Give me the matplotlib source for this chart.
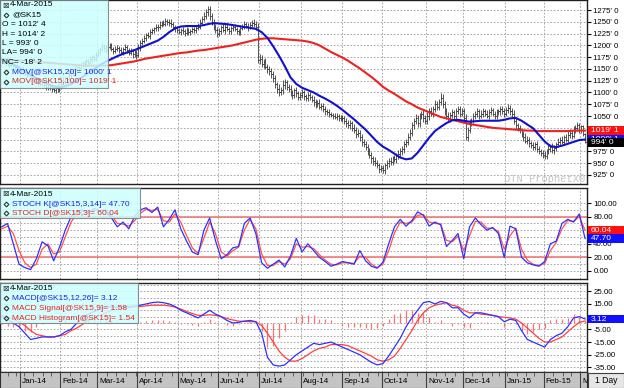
import numpy as np
import pandas as pd
import matplotlib
matplotlib.use('Agg')
import matplotlib.pyplot as plt
from matplotlib.patches import Rectangle
from matplotlib.lines import Line2D

plt.rcParams['font.family'] = ['Liberation Sans', 'DejaVu Sans']

# --- data: May 2015 soybeans (@SK15), daily sessions 17-Dec-2013 .. 4-Mar-2015 ---
holidays = ['2013-12-25', '2014-01-01', '2014-01-20', '2014-02-17', '2014-04-18',
            '2014-05-26', '2014-07-04', '2014-09-01', '2014-11-27', '2014-12-25',
            '2015-01-01', '2015-01-19', '2015-02-16']

closes = [
    1166, 1163, 1165, 1160, 1158, 1161, 1156, 1154, 1152, 1150,
    1147, 1145, 1140, 1138, 1141, 1135, 1130, 1128, 1124, 1120,
    1118, 1122, 1115, 1112, 1110, 1113, 1108, 1105, 1110, 1107,
    1112, 1118, 1125, 1130, 1128, 1138, 1145, 1142, 1150, 1155,
    1152, 1158, 1162, 1160, 1166, 1163, 1170, 1175, 1172, 1180,
    1186, 1192, 1198, 1195, 1190, 1196, 1200, 1193, 1188, 1192,
    1195, 1190, 1186, 1192, 1196, 1190, 1184, 1188, 1181, 1185,
    1180, 1195, 1205, 1210, 1216, 1222, 1220, 1228, 1232, 1236,
    1240, 1238, 1244, 1248, 1246, 1252, 1250, 1248, 1245, 1240,
    1236, 1232, 1228, 1232, 1230, 1226, 1232, 1228, 1230, 1234,
    1232, 1236, 1240, 1248, 1256, 1262, 1270, 1278, 1262, 1250,
    1240, 1232, 1225, 1230, 1238, 1232, 1240, 1235, 1230, 1236,
    1240, 1235, 1230, 1228, 1236, 1240, 1245, 1242, 1238, 1244,
    1248, 1245, 1240, 1168, 1172, 1160, 1165, 1155, 1150, 1145,
    1140, 1130, 1118, 1108, 1100, 1105, 1115, 1122, 1112, 1108,
    1100, 1095, 1105, 1098, 1090, 1095, 1100, 1092, 1088, 1095,
    1090, 1085, 1080, 1075, 1078, 1070, 1072, 1065, 1060, 1058,
    1055, 1052, 1050, 1048, 1050, 1046, 1044, 1045, 1040, 1035,
    1030, 1035, 1025, 1020, 1012, 1015, 1005, 995, 990, 985,
    975, 968, 960, 955, 950, 945, 938, 940, 935, 945,
    950, 955, 952, 960, 958, 965, 970, 975, 980, 990,
    995, 1005, 1015, 1030, 1040, 1045, 1035, 1050, 1055, 1045,
    1040, 1050, 1060, 1055, 1065, 1075, 1070, 1080, 1088, 1075,
    1060, 1050, 1045, 1052, 1058, 1050, 1060, 1065, 1055, 1060,
    1045, 1005, 1020, 1035, 1040, 1050, 1055, 1060, 1050, 1055,
    1060, 1055, 1050, 1058, 1062, 1055, 1050, 1058, 1060, 1065,
    1060, 1055, 1062, 1068, 1060, 1055, 1040, 1030, 1025, 1020,
    1012, 1005, 998, 1000, 992, 988, 985, 990, 980, 975,
    972, 968, 965, 975, 980, 985, 978, 982, 990, 995,
    1000, 995, 1005, 1000, 1010, 1015, 1008, 1020, 1025, 1030,
    1020, 1028, 1012, 994,
]
# cents above / below the open-close body of each bar
up = [
    4, 5, 3, 6, 4, 5, 3, 4, 6, 5, 4, 7, 5, 3, 6, 4, 5, 8, 4, 5,
    6, 4, 5, 3, 7, 4, 5, 6, 4, 8, 5, 6, 7, 4, 5, 9, 6, 5, 7, 6,
    5, 6, 4, 7, 5, 6, 8, 5, 4, 6, 7, 5, 6, 4, 5, 7, 6, 5, 4, 6,
    5, 4, 6, 5, 7, 4, 5, 6, 4, 5, 6, 8, 7, 5, 6, 5, 7, 6, 5, 4,
    6, 5, 7, 4, 5, 6, 4, 5, 7, 5, 4, 6, 5, 4, 6, 5, 7, 4, 5, 6,
    5, 6, 7, 8, 6, 9, 8, 6, 5, 7, 6, 5, 8, 6, 5, 7, 6, 5, 4, 6,
    5, 6, 4, 5, 7, 5, 6, 4, 5, 6, 5, 7, 6, 8, 9, 7, 6, 8, 5, 7,
    8, 6, 7, 5, 9, 7, 12, 6, 5, 7, 8, 6, 5, 7, 6, 5, 8, 6, 5, 7,
    6, 5, 7, 6, 5, 8, 6, 5, 7, 5, 6, 4, 5, 7, 6, 5, 6, 7, 5, 6,
    7, 6, 5, 8, 6, 7, 5, 6, 7, 8, 6, 7, 5, 6, 8, 7, 6, 5, 7, 6,
    7, 6, 8, 5, 7, 6, 8, 7, 6, 8, 7, 9, 8, 7, 6, 9, 8, 7, 6, 8,
    7, 8, 6, 9, 7, 8, 6, 7, 10, 8, 6, 7, 8, 6, 7, 5, 8, 6, 7, 6,
    7, 9, 6, 8, 5, 7, 6, 8, 5, 7, 6, 5, 7, 6, 8, 5, 6, 7, 5, 6,
    7, 6, 8, 7, 5, 6, 7, 8, 6, 7, 5, 6, 8, 7, 5, 6, 7, 5, 6, 7,
    6, 5, 7, 6, 8, 5, 7, 6, 5, 8, 6, 7, 5, 6, 8, 7, 6, 9, 7, 8,
    6, 2, 2, 2,
]
dn = [
    5, 3, 6, 4, 5, 3, 4, 6, 5, 4, 7, 5, 3, 6, 4, 5, 7, 4, 5, 6,
    4, 5, 3, 6, 4, 5, 7, 4, 6, 5, 6, 4, 5, 7, 6, 4, 5, 8, 6, 5,
    6, 4, 7, 5, 6, 4, 5, 7, 6, 5, 4, 6, 5, 7, 6, 5, 4, 6, 7, 5,
    4, 6, 5, 7, 4, 6, 5, 4, 7, 6, 8, 5, 6, 4, 5, 7, 5, 6, 4, 5,
    5, 7, 4, 6, 5, 4, 6, 7, 5, 6, 7, 5, 4, 6, 5, 7, 4, 6, 5, 4,
    6, 5, 4, 6, 5, 4, 7, 8, 9, 7, 8, 6, 7, 5, 6, 4, 7, 5, 6, 5,
    6, 4, 5, 7, 5, 4, 6, 5, 7, 4, 6, 5, 7, 5, 8, 6, 7, 6, 8, 7,
    9, 7, 8, 10, 7, 6, 8, 7, 6, 8, 7, 9, 6, 8, 7, 6, 7, 8, 6, 7,
    7, 6, 8, 7, 6, 5, 7, 6, 8, 6, 7, 5, 6, 5, 7, 6, 5, 6, 7, 8,
    6, 8, 7, 6, 8, 7, 9, 8, 6, 7, 8, 7, 9, 8, 7, 6, 8, 7, 6, 8,
    7, 8, 6, 7, 6, 8, 7, 6, 7, 8, 6, 7, 6, 8, 7, 6, 8, 9, 7, 8,
    6, 7, 8, 6, 7, 6, 8, 7, 6, 9, 8, 7, 6, 7, 6, 8, 7, 6, 7, 6,
    8, 6, 7, 6, 7, 5, 6, 7, 6, 5, 7, 6, 5, 7, 6, 5, 7, 6, 5, 7,
    6, 7, 5, 6, 8, 7, 6, 8, 7, 6, 7, 8, 6, 7, 8, 6, 7, 8, 7, 6,
    7, 8, 6, 7, 6, 7, 6, 8, 7, 6, 7, 5, 7, 6, 5, 7, 6, 5, 7, 6,
    6, 5, 4, 1,
]

# indicators, one value every 3rd session (0, 3, ..., 303)
ma20 = [
    1171, 1166, 1160, 1152, 1145, 1137, 1130, 1124, 1118, 1113,
    1111, 1113, 1118, 1125, 1133, 1142, 1150, 1158, 1165, 1171,
    1177, 1182, 1186, 1190, 1195, 1200, 1205, 1210, 1218, 1228,
    1236, 1240, 1241, 1241, 1241, 1243, 1246, 1247, 1246, 1245,
    1243, 1241, 1239, 1237, 1235, 1228, 1216, 1198, 1178, 1156,
    1132, 1118, 1110, 1105, 1100, 1093, 1087, 1080, 1072, 1063,
    1053, 1043, 1032, 1021, 1008, 995, 985, 978, 970, 962,
    958, 960, 972, 988, 1004, 1018, 1027, 1035, 1041, 1042,
    1040, 1038, 1039, 1040, 1040, 1040, 1040, 1042, 1045, 1046,
    1040, 1032, 1024, 1010, 996, 986, 984, 987, 991, 995,
    999, 1000.125,
]
ma100 = [
    1171, 1170, 1169, 1168, 1167, 1166, 1165, 1164, 1163, 1162,
    1161, 1160, 1159, 1158, 1157, 1157, 1157, 1157, 1157, 1158,
    1160, 1162, 1164, 1166, 1169, 1172, 1174, 1176, 1178, 1180,
    1182, 1184, 1185, 1187, 1189, 1190, 1192, 1194, 1196, 1198,
    1200, 1203, 1206, 1209, 1212, 1214, 1215, 1215, 1214, 1213,
    1212, 1211, 1210, 1208, 1205, 1200, 1193, 1186, 1180, 1174,
    1167, 1159, 1151, 1142, 1133, 1123, 1112, 1104, 1097, 1089,
    1081, 1075, 1068, 1063, 1058, 1053, 1048, 1045, 1042, 1039,
    1036, 1033, 1031, 1029, 1027, 1025, 1024, 1023, 1022, 1021,
    1020, 1019, 1019, 1018, 1018, 1018, 1018, 1018, 1018, 1019,
    1019, 1019.125,
]
stoch_k = [
    65, 70, 40, 10, 5, 2, 18, 43, 37, 15,
    35, 60, 80, 88, 90, 85, 92, 88, 90, 78,
    65, 72, 62, 80, 90, 93, 86, 94, 65, 76,
    90, 62, 44, 28, 24, 60, 78, 45, 18, 24,
    34, 36, 70, 78, 55, 12, 4, 10, 16, 6,
    22, 48, 28, 40, 30, 20, 14, 7, 10, 14,
    12, 10, 30, 15, 7, 4, 13, 40, 65, 76,
    66, 74, 87, 82, 66, 72, 68, 36, 45, 55,
    18, 65, 78, 68, 60, 64, 55, 20, 66, 62,
    20, 12, 9, 7, 14, 40, 44, 70, 76, 72,
    84, 47.70,
]
stoch_d = [
    62, 66, 55, 30, 12, 5, 10, 32, 40, 25,
    28, 50, 72, 84, 88, 87, 89, 89, 89, 82,
    70, 69, 66, 74, 85, 91, 89, 91, 74, 72,
    84, 72, 52, 34, 26, 48, 72, 55, 28, 22,
    30, 35, 60, 76, 62, 25, 8, 8, 14, 10,
    18, 40, 35, 36, 33, 24, 16, 10, 9, 12,
    12, 11, 22, 20, 10, 5, 10, 30, 56, 72,
    70, 72, 82, 83, 72, 70, 69, 45, 43, 51,
    30, 52, 73, 72, 63, 63, 58, 32, 52, 63,
    32, 16, 10, 8, 11, 30, 42, 62, 74, 73,
    80, 60.04,
]
macd = [
    5, 3, 0, -3, -8, -13, -12, -11, -11, -11,
    -10, -7, -5, 0, 4, 7, 9, 11, 12.5, 12.6,
    12.5, 13, 13, 13.5, 14, 15, 16, 16.5, 16, 15,
    13, 10, 8, 6, 4, 7, 10, 7, 5, 2,
    0, 0.5, 1.5, 2, 1, -8, -27, -33, -34, -33,
    -29, -25, -22, -19, -16, -17, -16, -15, -17, -19,
    -21, -23, -25, -28, -31, -33, -32, -26, -19, -12,
    -3, 4, 10, 16, 17, 15, 17, 16, 12, 12,
    7, 4, 8, 8, 7, 6, 5, 1, 3, 2,
    -6, -13, -15, -17, -19, -13, -10, -8, -3, 4,
    5, 3.12,
]
signal = [
    6, 5, 3, 1, -2, -6, -9, -10, -11, -11,
    -10, -9, -6, -4, -1, 2, 4, 6, 8, 10,
    11, 12, 12, 12.5, 13, 13.5, 14, 14, 14, 13.5,
    12.5, 11, 9, 7.5, 6, 6, 6.5, 6, 5, 3.5,
    2.4, 1.5, 1.2, 1, 1, -2, -8, -15, -22, -27,
    -30, -30, -28, -25, -22, -20, -19, -17, -17, -17,
    -18, -20, -22, -24, -26, -29, -30, -29, -26, -20,
    -13, -6, 2, 8, 12, 14, 15, 16, 14, 13,
    10, 8, 8, 7, 6.5, 6, 5, 4.5, 4, 3,
    0, -4, -8, -12, -15, -15, -13, -11, -7, -3,
    0.5, 1.58,
]
hist = [
    -1, -2, -3, -4, -6, -7, -3, -1, 0, 0,
    0, 2, 1, 4, 5, 5, 5, 5, 4.5, 2.6,
    1.5, 1, 1, 1, 1, 1.5, 2, 2.5, 2, 1.5,
    0.5, -1, -1, -1.5, -2, 1, 3.5, 1, 0, -1.5,
    -2.4, -1, 0.3, 1, 0, -6, -19, -18, -12, -6,
    1, 5, 6, 6, 6, 3, 3, 2, 0, -2,
    -3, -3, -3, -4, -5, -4, -2, 3, 7, 8,
    10, 10, 8, 8, 5, 1, 2, 0, -2, -1,
    -3, -4, 0, 1, 0.5, 0, 0, -3.5, -1, -1,
    -6, -9, -7, -5, -4, 2, 3, 3, 4, 7,
    4.5, 1.54,
]

price_ticks = list(range(925, 1276, 25))
stoch_ticks = [0, 20, 40, 60, 80, 100]
macd_ticks = [-35, -25, -15, -5, 5, 15, 25]
month_names = ['Jan-14', 'Feb-14', 'Mar-14', 'Apr-14', 'May-14', 'Jun-14', 'Jul-14',
               'Aug-14', 'Sep-14', 'Oct-14', 'Nov-14', 'Dec-14', 'Jan-15', 'Feb-15', 'M']

# --- calendar ---
days = pd.bdate_range('2013-12-17', '2015-03-04')
days = days[~days.isin(pd.to_datetime(holidays))]
n = len(closes)
x = np.arange(n)
xi = np.arange(0, n, 3)
months = days.to_period('M')
month_edges = [i - 0.5 for i in range(1, len(days)) if months[i] != months[i - 1]]
weeks = days.to_period('W')
week_edges = [i - 0.5 for i in range(1, len(days)) if weeks[i] != weeks[i - 1]]

W, H = 624, 388
XL = (-0.9, 304.0)
AX_R = 587
fig = plt.figure(figsize=(W / 100, H / 100), dpi=100)

BLUE = '#2020e8'
RED = '#ee2020'
FS = 5.7


def fx(px):
    return px / W


def fy(py):
    return 1 - py / H


def panel(top, bottom, ylim, ticks, labels, minor):
    ax = fig.add_axes([0, fy(bottom), AX_R / W, (bottom - top) / H])
    ax.set_xlim(*XL)
    ax.set_ylim(*ylim)
    ax.set_xticks(month_edges)
    ax.tick_params(axis='x', length=0, labelbottom=False)
    ax.yaxis.tick_right()
    ax.set_yticks(ticks)
    ax.set_yticklabels(labels)
    ax.set_yticks(minor, minor=True)
    ax.tick_params(axis='y', which='major', length=3, width=0.8, labelsize=FS, pad=1.5)
    ax.tick_params(axis='y', which='minor', length=0)
    ax.grid(True, which='both', color='#9a9a9a', lw=0.6, ls=(0, (2, 2)))
    for s in ax.spines.values():
        s.set_color('#202020')
        s.set_linewidth(1.0)
    return ax


def ypx(ax, top, bottom, v):
    lo, hi = ax.get_ylim()
    return top + (hi - v) / (hi - lo) * (bottom - top)


def tag(y, text, fc, z):
    fig.add_artist(Rectangle((fx(588), fy(y + 4.3)), 36 / W, 8.6 / H, transform=fig.transFigure,
                             facecolor=fc, edgecolor='none', zorder=z))
    fig.text(fx(591), fy(y), text, color='white', fontsize=FS + 0.3, va='center', ha='left', zorder=z + 0.5)


def legend(x0, y0, x1, y1, rows):
    fig.add_artist(Rectangle((fx(x0), fy(y1)), (x1 - x0) / W, (y1 - y0) / H, transform=fig.transFigure,
                             facecolor='#ccffff', edgecolor='#7a7a7a', lw=0.8, alpha=0.85, zorder=15))
    for kind, px, py, text, color in rows:
        if kind == 'icon':
            fig.text(fx(px), fy(py), '\u22a0', fontsize=FS, color='#333333', va='center', ha='left',
                     family=['DejaVu Sans'], zorder=16)
            fig.text(fx(px + 8), fy(py), text, fontsize=FS + 0.3, color=color, va='center', ha='left', zorder=16)
        elif kind == 'dot':
            fig.add_artist(Line2D([fx(px + 1.5)], [fy(py)], marker='D', ms=2.4, mfc='none', mec='#333333',
                                  mew=0.8, transform=fig.transFigure, zorder=16))
            fig.text(fx(px + 8), fy(py), text, fontsize=FS + 0.3, color=color, va='center', ha='left', zorder=16)
        else:
            fig.text(fx(px), fy(py), text, fontsize=FS + 0.3, color=color, va='center', ha='left', zorder=16)


# tick labels that sit under the value tags are not shown
def price_label(v):
    return '' if v in (1000, 1025) else f"{v}' 0"


# --- price panel ---
P_TOP, P_BOT = 0, 184
axp = panel(P_TOP, P_BOT, (905.7, 1296.3), price_ticks, [price_label(v) for v in price_ticks], [])
c = np.array(closes, float)
prev = np.r_[c[0], c[:-1]]
hi = np.maximum(prev, c) + np.array(up)
lo = np.minimum(prev, c) - np.array(dn)
axp.vlines(x, lo, hi, color='#3a3a3a', lw=0.6, zorder=3)
axp.hlines(c, x, x + 0.8, color='#3a3a3a', lw=0.6, zorder=3)
axp.hlines(prev, x - 0.8, x, color='#3a3a3a', lw=0.5, zorder=3)
axp.plot(xi, ma100, color=RED, lw=1.5, zorder=4)
axp.plot(xi, ma20, color='#1010d0', lw=1.5, zorder=5)
fig.text(fx(585), fy(179), 'DTN ProphetX\u00ae', ha='right', va='center', fontsize=7.5,
         color='#c4c4c4', family=['Liberation Mono', 'DejaVu Sans Mono'], zorder=2)

# --- stochastic panel ---
S_TOP, S_BOT = 188, 279
axs = panel(S_TOP, S_BOT, (-11.8, 122.1), stoch_ticks,
            ['' if v == 60 else f'{v:.2f}' for v in stoch_ticks], [10, 30, 50, 70, 90])
axs.axhline(80, color='#f07070', lw=1.1, zorder=2)
axs.axhline(20, color='#f07070', lw=1.1, zorder=2)
axs.plot(xi, stoch_d, color='#ff5050', lw=0.9, zorder=3)
axs.plot(xi, stoch_k, color='#3030ff', lw=0.9, zorder=4)

# --- MACD panel ---
M_TOP, M_BOT = 283, 372
axm = panel(M_TOP, M_BOT, (-38.6, 31.5), macd_ticks,
            ['' if v == 5 else f'{v:.2f}' for v in macd_ticks], [-30, -20, -10, 0, 10, 20, 30])
axm.vlines(xi, 0, hist, color='#ff7070', lw=0.9, zorder=2)
axm.plot(xi, signal, color='#ff4040', lw=0.9, zorder=3)
axm.plot(xi, macd, color='#3030ff', lw=0.9, zorder=4)

# --- date strip ---
axd = fig.add_axes([0, 0, AX_R / W, 16 / H])
axd.set_facecolor('#c4c4c4')
axd.set_xlim(*XL)
axd.set_ylim(0, 1)
axd.set_xticks([])
axd.set_yticks([])
axd.vlines(week_edges, 0.72, 1, color='#505050', lw=0.6)
axd.vlines(month_edges, 0.0, 1, color='#404040', lw=0.8)
for edge, name in zip(month_edges, month_names):
    axd.text(edge + 1.0, 0.42, name, fontsize=FS + 0.2, va='center', ha='left')
for s in axd.spines.values():
    s.set_color('#303030')

fig.add_artist(Rectangle((fx(588), fy(388)), 36 / W, 15 / H, transform=fig.transFigure,
                         facecolor='#e6e6e6', edgecolor='#404040', lw=0.8, zorder=20))
fig.text(fx(606), fy(380.5), '1 Day', fontsize=FS + 0.5, ha='center', va='center', zorder=21)

# --- right-axis value tags (later ones drawn on top, as in the reference) ---
tag(ypx(axp, P_TOP, P_BOT, 1019.125), "1019' 1", '#ff1010', 20)
tag(ypx(axp, P_TOP, P_BOT, 1000.125), "1000' 1", '#1010ff', 21)
tag(ypx(axp, P_TOP, P_BOT, 994), "994' 0", '#000000', 22)
tag(ypx(axs, S_TOP, S_BOT, 60.04), '60.04', '#ff1010', 20)
tag(ypx(axs, S_TOP, S_BOT, 47.70), '47.70', '#1010ff', 21)
tag(ypx(axm, M_TOP, M_BOT, 3.12), '3.12', '#1010ff', 20)

# --- legends ---
legend(0, 0, 108, 88, [
    ('icon', 2, 5, '4-Mar-2015', 'black'),
    ('dot', 4, 15, '@SK15', 'black'),
    ('text', 2, 24.5, "O = 1012' 4", 'black'),
    ('text', 2, 34, "H = 1014' 2", 'black'),
    ('text', 2, 43.5, "L = 993' 0", 'black'),
    ('text', 2, 53, "LA= 994' 0", 'black'),
    ('text', 2, 62.5, "NC= -18' 2", 'black'),
    ('dot', 4, 72, "MOV[@SK15,20]= 1000' 1", BLUE),
    ('dot', 4, 81.5, "MOV[@SK15,100]= 1019' 1", RED),
])
legend(0, 188, 140, 218, [
    ('icon', 2, 194, '4-Mar-2015', 'black'),
    ('dot', 4, 204, 'STOCH K[@SK15,3,14]= 47.70', BLUE),
    ('dot', 4, 213, 'STOCH D[@SK15,3]= 60.04', RED),
])
legend(0, 283, 138, 323, [
    ('icon', 2, 288.5, '4-Mar-2015', 'black'),
    ('dot', 4, 298, 'MACD[@SK15,12,26]= 3.12', BLUE),
    ('dot', 4, 308, 'MACD Signal[@SK15,9]= 1.58', RED),
    ('dot', 4, 318, 'MACD Histogram[@SK15]= 1.54', RED),
])

fig.savefig('out.png', dpi=100)
